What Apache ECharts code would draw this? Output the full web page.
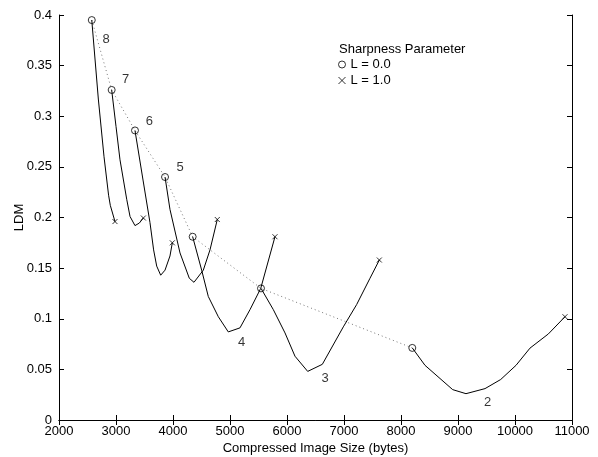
<!DOCTYPE html>
<html><head><meta charset="utf-8">
<script src="https://cdn.jsdelivr.net/npm/echarts@6/dist/echarts.min.js"></script>
<style>html,body{margin:0;padding:0;background:#fff}#c{width:598px;height:457px}</style>
</head><body><div id="c"></div>
<script>
// Each curve: from L = 0.0 (first point, circle) to L = 1.0 (last point, cross)
const curve8 = [[2575,0.395],[2690,0.317],[2790,0.26],[2870,0.222],[2900,0.212],[2982,0.196]];
const curve7 = [[2924,0.326],[3000,0.29],[3070,0.257],[3188,0.218],[3246,0.201],[3333,0.192],[3409,0.1945],[3480,0.1995]];
const curve6 = [[3333,0.286],[3474,0.237],[3596,0.195],[3660,0.168],[3714,0.152],[3784,0.143],[3860,0.148],[3947,0.162],[3988,0.175]];
const curve5 = [[3860,0.240],[3947,0.208],[4123,0.165],[4286,0.140],[4368,0.136],[4532,0.148],[4649,0.168],[4777,0.198]];
const curve4 = [[4345,0.181],[4503,0.148],[4619,0.122],[4795,0.102],[4970,0.087],[5175,0.091],[5351,0.109],[5539,0.130],[5789,0.181]];
const curve3 = [[5544,0.130],[5760,0.109],[5965,0.086],[6140,0.063],[6363,0.048],[6620,0.055],[6988,0.092],[7222,0.114],[7456,0.140],[7620,0.158]];
const curve2 = [[8198,0.0712],[8421,0.054],[8907,0.030],[9140,0.026],[9474,0.031],[9749,0.040],[10018,0.054],[10263,0.071],[10585,0.085],[10877,0.102]];
const curveNames = ['8','7','6','5','4','3','2'];
const labelAnchors = [[2825,0.376],[3170,0.336],[3585,0.295],[4123,0.249],[5205,0.0765],[6667,0.041],[9521,0.0175]];
const xMin = 2000, xMax = 11000, xStep = 1000;
const yMin = 0, yMax = 0.4, yStep = 0.05;
const legendTitle = 'Sharpness Parameter';
const legendNames = ['L = 0.0','L = 1.0'];
const xName = 'Compressed Image Size (bytes)';
const yName = 'LDM';

const curves = [curve8, curve7, curve6, curve5, curve4, curve3, curve2];
const circles = curves.map(c => c[0]);
const crosses = curves.map(c => c[c.length - 1]);
const FONT = 'Liberation Sans, Arial, Helvetica, sans-serif';
const FS = 13;
const crossPath = 'path://M0,0L10,10M10,0L0,10';

const chart = echarts.init(document.getElementById('c'), null, {renderer: 'canvas'});
const axisCommon = {
  axisLine: {show: true, lineStyle: {color: '#000', width: 1}},
  axisTick: {show: true, inside: true, length: 5, lineStyle: {color: '#000'}},
  splitLine: {show: false}
};
const series = [];
curves.forEach((c, i) => {
  series.push({type: 'line', data: c, showSymbol: false, symbol: 'none', silent: true,
    lineStyle: {color: '#000', width: 1}, z: 3, animation: false});
});
series.push({type: 'line', data: circles, showSymbol: false, symbol: 'none',
  lineStyle: {color: '#777', width: 1, type: [1, 3]}, z: 2, animation: false});
series.push({name: legendNames[0], type: 'scatter', data: circles, symbol: 'circle', symbolSize: 7,
  itemStyle: {color: 'rgba(0,0,0,0)', borderColor: '#000', borderWidth: 1}, z: 4, animation: false});
series.push({name: legendNames[1], type: 'scatter', data: crosses, symbol: crossPath, symbolSize: 5,
  itemStyle: {color: 'rgba(0,0,0,0)', borderColor: '#000', borderWidth: 1}, z: 4, animation: false});
series.push({type: 'scatter', data: labelAnchors.map((p, i) => ({value: p, name: curveNames[i]})),
  symbolSize: 0, silent: true, animation: false,
  label: {show: true, position: 'inside', formatter: p => p.name, color: '#000', fontSize: FS, fontFamily: FONT}});

chart.setOption({
  backgroundColor: '#fff',
  animation: false,
  textStyle: {fontFamily: FONT},
  grid: {left: 59, right: 26, top: 15, bottom: 37, containLabel: false, outerBoundsMode: 'none'},
  title: {text: legendTitle, left: 339, top: 43, textStyle: {fontSize: FS, fontWeight: 'normal', color: '#000', fontFamily: FONT}, padding: 0},
  legend: {
    orient: 'vertical', left: 338, top: 58, itemWidth: 7, itemHeight: 7, itemGap: 3, padding: 0,
    textStyle: {fontSize: FS, color: '#000', fontFamily: FONT},
    data: [
      {name: legendNames[0], icon: 'circle', itemStyle: {color: 'rgba(0,0,0,0)', borderColor: '#000', borderWidth: 1}},
      {name: legendNames[1], icon: crossPath, itemStyle: {color: 'rgba(0,0,0,0)', borderColor: '#000', borderWidth: 1}}
    ],
    selectedMode: false
  },
  xAxis: [
    Object.assign({type: 'value', min: xMin, max: xMax, interval: xStep, position: 'bottom',
      name: xName, nameLocation: 'middle', nameGap: 22, nameMoveOverlap: false,
      nameTextStyle: {fontSize: FS, color: '#000', fontFamily: FONT},
      axisLabel: {fontSize: FS, color: '#000', margin: 5, fontFamily: FONT, formatter: v => String(v)}}, axisCommon),
    Object.assign({type: 'value', min: xMin, max: xMax, interval: xStep, position: 'top',
      axisLabel: {show: false}}, axisCommon)
  ],
  yAxis: [
    Object.assign({type: 'value', min: yMin, max: yMax, interval: yStep, position: 'left',
      name: yName, nameLocation: 'middle', nameGap: 33, nameMoveOverlap: false,
      nameTextStyle: {fontSize: FS, color: '#000', fontFamily: FONT},
      axisLabel: {fontSize: FS, color: '#000', margin: 7, fontFamily: FONT}}, axisCommon),
    Object.assign({type: 'value', min: yMin, max: yMax, interval: yStep, position: 'right',
      axisLabel: {show: false}}, axisCommon)
  ],
  series: series
});
</script></body></html>
